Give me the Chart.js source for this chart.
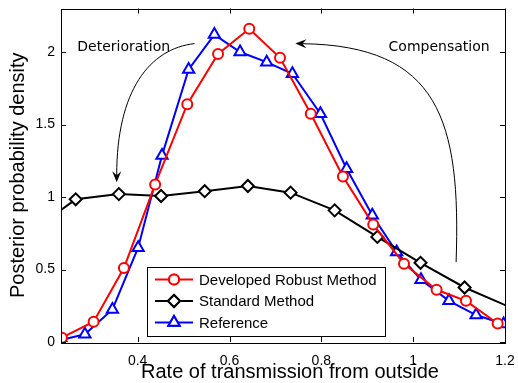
<!DOCTYPE html>
<html>
<head>
<meta charset="utf-8">
<script src="https://cdn.jsdelivr.net/npm/chart.js@4/dist/chart.umd.min.js"></script>
<style>
  html, body { margin: 0; padding: 0; background: #fff; }
  #wrap { width: 518px; height: 383px; }
</style>
</head>
<body>
<div id="wrap"><canvas id="c" width="518" height="383"></canvas></div>
<script>
// ---------- data ----------
const seriesNames = ["Developed Robust Method", "Standard Method", "Reference"];
const robustX = [0.235, 0.304, 0.370, 0.438, 0.508, 0.575, 0.643, 0.710, 0.777, 0.847, 0.913, 0.980, 1.051, 1.115, 1.184];
const robustY = [0.03, 0.14, 0.51, 1.087, 1.64, 1.987, 2.16, 1.96, 1.574, 1.142, 0.81, 0.54, 0.36, 0.284, 0.128];
const standardX = [0.171, 0.265, 0.359, 0.451, 0.546, 0.640, 0.733, 0.829, 0.922, 1.016, 1.112, 1.206];
const standardY = [0.767, 0.984, 1.02, 1.007, 1.04, 1.076, 1.03, 0.908, 0.725, 0.546, 0.376, 0.247];
const referenceX = [0.235, 0.285, 0.345, 0.401, 0.453, 0.511, 0.567, 0.623, 0.681, 0.737, 0.798, 0.855, 0.911, 0.964, 1.017, 1.078, 1.137, 1.197];
const referenceY = [0.015, 0.053, 0.225, 0.65, 1.287, 1.88, 2.12, 2.0, 1.93, 1.85, 1.574, 1.195, 0.874, 0.62, 0.43, 0.284, 0.186, 0.124];
const xTicks = [0.4, 0.6, 0.8, 1.0, 1.2];
const yTicks = [0, 0.5, 1, 1.5, 2];
const xRange = [0.233, 1.2];
const yRange = [0, 2.3];
const xTitle = "Rate of transmission from outside";
const yTitle = "Posterior probability density";
const annotationLabels = ["Deterioration", "Compensation"];

// ---------- helpers ----------
const toPts = (xs, ys) => xs.map((x, i) => ({ x: x, y: ys[i] }));
const inRangeRadius = r => ctx => {
  const p = ctx.raw;
  return (p && (p.x < xRange[0] || p.x > xRange[1])) ? 0 : r;
};

// annotation geometry in data coordinates
const annot = {
  det: { label: [0.3696, 2.01], path: [[0.5239, 2.058], [0.4261, 2.023], [0.3543, 1.734], [0.3543, 1.101]] },
  comp: { label: [1.0565, 2.01], path: [[1.0935, 0.5506], [1.1043, 1.528], [1.0565, 2.044], [0.7435, 2.058]] }
};

const boxPlugin = {
  id: 'boxPlugin',
  afterDraw(chart) {
    const ctx = chart.ctx, a = chart.chartArea;
    const xs = chart.scales.x, ys = chart.scales.y;
    ctx.save();
    // frame
    ctx.strokeStyle = '#000';
    ctx.lineWidth = 1;
    ctx.strokeRect(Math.round(a.left) + 0.5, Math.round(a.top) + 0.5, Math.round(a.right - a.left), Math.round(a.bottom - a.top));
    // inward ticks
    const L = 5;
    ctx.beginPath();
    xTicks.forEach(v => {
      const px = Math.round(xs.getPixelForValue(v)) + 0.5;
      ctx.moveTo(px, a.bottom); ctx.lineTo(px, a.bottom - L);
      ctx.moveTo(px, a.top); ctx.lineTo(px, a.top + L);
    });
    yTicks.forEach(v => {
      const py = Math.round(ys.getPixelForValue(v)) + 0.5;
      ctx.moveTo(a.left, py); ctx.lineTo(a.left + L, py);
      ctx.moveTo(a.right, py); ctx.lineTo(a.right - L, py);
    });
    ctx.stroke();

    // x axis title
    ctx.fillStyle = '#000';
    ctx.font = '20px "Liberation Sans"';
    ctx.textAlign = 'center';
    ctx.textBaseline = 'alphabetic';
    ctx.fillText(xTitle, (a.left + a.right) / 2 + 7, a.bottom + 36);

    // annotations
    const P = q => [xs.getPixelForValue(q[0]), ys.getPixelForValue(q[1])];
    ctx.font = '14px "DejaVu Sans"';
    [[annot.det, annotationLabels[0]], [annot.comp, annotationLabels[1]]].forEach(([an, txt]) => {
      const lp = P(an.label);
      ctx.fillText(txt, lp[0], lp[1]);
      const pts = an.path.map(P);
      const dx = pts[3][0] - pts[2][0], dy = pts[3][1] - pts[2][1];
      const len = Math.hypot(dx, dy);
      const ux = dx / len, uy = dy / len;
      const headL = 11, headW = 4.5, notch = 4;
      ctx.lineWidth = 1;
      ctx.beginPath();
      ctx.moveTo(pts[0][0], pts[0][1]);
      ctx.bezierCurveTo(pts[1][0], pts[1][1], pts[2][0], pts[2][1], pts[3][0] - ux * (headL - notch), pts[3][1] - uy * (headL - notch));
      ctx.stroke();
      const tx = pts[3][0], ty = pts[3][1];
      const bx = tx - ux * headL, by = ty - uy * headL;
      const nx = -uy, ny = ux;
      ctx.beginPath();
      ctx.moveTo(tx, ty);
      ctx.lineTo(bx + nx * headW, by + ny * headW);
      ctx.lineTo(tx - ux * (headL - notch), ty - uy * (headL - notch));
      ctx.lineTo(bx - nx * headW, by - ny * headW);
      ctx.closePath();
      ctx.fill();
    });

    // legend
    const lx = a.left + 86, ly = a.top + 258, lw = 238, lh = 69;
    ctx.fillStyle = '#fff';
    ctx.fillRect(lx, ly, lw, lh);
    ctx.strokeStyle = '#000';
    ctx.lineWidth = 1;
    ctx.strokeRect(Math.round(lx) + 0.5, Math.round(ly) + 0.5, lw, lh);
    ctx.font = '15px "Liberation Sans"';
    ctx.textAlign = 'left';
    ctx.textBaseline = 'middle';
    chart.data.datasets.forEach((ds, i) => {
      const cy = ly + 13 + i * 21.5;
      ctx.strokeStyle = ds.borderColor;
      ctx.lineWidth = ds.borderWidth;
      ctx.beginPath();
      ctx.moveTo(lx + 8, cy); ctx.lineTo(lx + 46, cy);
      ctx.stroke();
      Chart.helpers.drawPoint(ctx, {
        pointStyle: ds.pointStyle, radius: ds.legendRadius, borderWidth: ds.borderWidth, rotation: 0
      }, lx + 27, cy);
      ctx.fillStyle = '#fff';
      ctx.strokeStyle = ds.borderColor;
      ctx.fill();
      ctx.stroke();
      ctx.fillStyle = '#000';
      ctx.fillText(ds.label, lx + 52, cy + 1);
    });
    ctx.restore();
  }
};

const mk = (label, xs, ys, color, style, r) => ({
  label: label,
  data: toPts(xs, ys),
  borderColor: color,
  backgroundColor: '#fff',
  pointBackgroundColor: '#fff',
  pointBorderColor: color,
  borderWidth: 2,
  pointBorderWidth: 2,
  pointStyle: style,
  pointRadius: inRangeRadius(r),
  pointHoverRadius: inRangeRadius(r),
  legendRadius: r,
  tension: 0,
  fill: false
});

const zeroPad = s => { s.paddingTop = 0; s.paddingBottom = 0; s.paddingLeft = 0; s.paddingRight = 0; };

new Chart(document.getElementById('c'), {
  type: 'line',
  data: {
    datasets: [
      mk(seriesNames[0], robustX, robustY, '#ff0000', 'circle', 5),
      mk(seriesNames[1], standardX, standardY, '#000000', 'rectRot', 6),
      mk(seriesNames[2], referenceX, referenceY, '#0000ff', 'triangle', 6.5)
    ]
  },
  options: {
    responsive: false,
    animation: false,
    devicePixelRatio: 1,
    events: [],
    layout: { padding: { left: 0, right: 13, top: 8, bottom: 0 } },
    plugins: { legend: { display: false }, tooltip: { enabled: false } },
    scales: {
      x: {
        type: 'linear',
        min: xRange[0], max: xRange[1],
        afterBuildTicks: s => { s.ticks = xTicks.map(v => ({ value: v })); },
        afterFit: s => { s.height = 41; zeroPad(s); },
        grid: { display: false, drawTicks: false },
        border: { display: false },
        ticks: {
          padding: 11, color: '#000', maxRotation: 0, autoSkip: false,
          font: { family: '"Liberation Sans"', size: 14 },
          callback: v => String(Math.round(v * 10) / 10)
        },
        title: { display: false }
      },
      y: {
        type: 'linear',
        min: yRange[0], max: yRange[1],
        afterBuildTicks: s => { s.ticks = yTicks.map(v => ({ value: v })); },
        afterFit: s => { s.width = 61; zeroPad(s); },
        grid: { display: false, drawTicks: false },
        border: { display: false },
        ticks: {
          padding: 6, color: '#000', autoSkip: false,
          font: { family: '"Liberation Sans"', size: 14 },
          callback: v => String(v)
        },
        title: { display: true, text: yTitle, color: '#000', font: { family: '"Liberation Sans"', size: 20 }, padding: { top: 6, bottom: 0 } }
      }
    }
  },
  plugins: [boxPlugin]
});
</script>
</body>
</html>
